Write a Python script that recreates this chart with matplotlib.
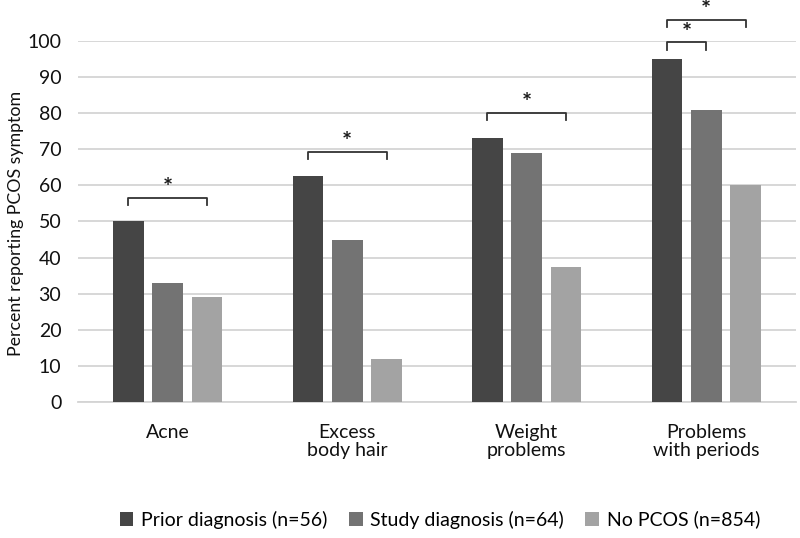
import matplotlib
matplotlib.use("Agg")
import matplotlib.pyplot as plt
import numpy as np

categories = ["Acne", "Excess\nbody hair", "Weight\nproblems", "Problems\nwith periods"]
series_names = ["Prior diagnosis (n=56)", "Study diagnosis (n=64)", "No PCOS (n=854)"]
prior = [50, 62.5, 73, 95]
study = [33, 45, 69, 81]
nopcos = [29, 12, 37.5, 60]
colors = ["#454545", "#737373", "#a3a3a3"]

# significance brackets: (category index, from series, to series, height)
brackets = [(0, 0, 2, 56.6), (1, 0, 2, 69.3), (2, 0, 2, 80), (3, 0, 1, 99.6), (3, 0, 2, 105.8)]

plt.rcParams['font.family'] = ['Lato', 'DejaVu Sans']

fig = plt.figure(figsize=(8, 5.38), dpi=100)
ax = fig.add_axes([0.0975, 0.2528, 0.8975, 0.671])

x = np.arange(len(categories))
w = 0.17
step = 0.22
offsets = [-step, 0, step]
for vals, off, c, name in zip([prior, study, nopcos], offsets, colors, series_names):
    ax.bar(x + off, vals, w, color=c, label=name, zorder=3)

for ci, s0, s1, h in brackets:
    x0 = ci + offsets[s0]
    x1 = ci + offsets[s1]
    ax.plot([x0, x0, x1, x1], [h - 2.0, h, h, h - 2.0], color="#333333", lw=1.3,
            clip_on=False, zorder=4, solid_joinstyle="round")
    ax.text((x0 + x1) / 2, h + 2.6, "*", ha="center", va="center", fontsize=17,
            fontweight="bold", color="#1a1a1a", clip_on=False)

ax.set_xlim(-0.5, len(categories) - 0.5)
ax.set_ylim(0, 100)
ax.set_yticks(range(0, 101, 10))
ax.yaxis.grid(True, color="#d4d4d4", lw=1.3, zorder=0)
ax.set_axisbelow(True)
for s in ["top", "right", "left"]:
    ax.spines[s].set_visible(False)
ax.spines["bottom"].set_color("#d4d4d4")
ax.spines["bottom"].set_linewidth(1.3)
ax.tick_params(axis="both", length=0, labelsize=14, colors="#111111")
ax.tick_params(axis="y", pad=12)
ax.tick_params(axis="x", pad=16)
ax.set_xticks(x)
ax.set_xticklabels(categories, fontsize=14, linespacing=1.05)

fig.text(16 / 800, 0.585, "Percent reporting PCOS symptom", rotation=90,
         ha="center", va="center", fontsize=12.8, color="#111111")

fig.legend(loc="lower center", bbox_to_anchor=(0.55, -0.015), ncol=3, frameon=False,
           fontsize=14, handlelength=0.7, handleheight=0.7, handletextpad=0.4,
           columnspacing=1.1)

fig.savefig("out.png", dpi=100)
